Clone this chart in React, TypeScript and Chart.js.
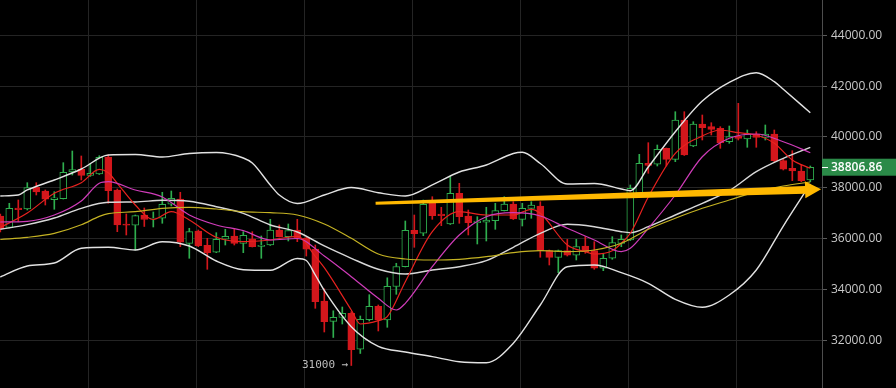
import React, { useEffect, useRef } from 'react';
import { Chart, registerables } from 'chart.js';

Chart.register(...registerables);

// ---- candle data (index 0..90) ----
const opens = [
  36886, 36441, 37201, 37162, 38016, 37870, 37528, 37567, 38618, 38725,
  38488, 38540, 39209, 37910, 36571, 36520, 36925, 36768, 36796, 37347,
  37555, 35811, 36296, 35733, 35457, 35969, 36099, 35811, 35981, 35693,
  35744, 36335, 36071, 36335, 36008, 35587, 33540, 32740, 32890, 33055,
  31638, 32803, 33331, 32792, 34110, 34890, 36323, 36205, 37386, 36965,
  36571, 37780, 36886, 36622, 36638, 36701, 37095, 37359, 36756, 37189,
  37280, 35520, 35260, 35520, 35339, 35705, 35520, 34827, 35221, 35811,
  35941, 37780, 38961, 38922, 39551, 39118, 40666, 39642, 40508, 40402,
  40339, 39811, 40036, 39917, 40114, 39984, 40114, 39063, 38764, 38657,
  38303,
];
const highs = [
  36965, 37386, 37516, 38197, 38197, 37910, 37843, 38985, 39445, 39248,
  38961, 39260, 39287, 37949, 36965, 36925, 37201, 37044, 37819, 37870,
  37819, 36402, 36335, 36008, 36229, 36362, 36362, 36268, 36268, 36099,
  36756, 36532, 36571, 36756, 36059, 35744, 34020, 33154, 33303, 33118,
  32949, 33788, 33382, 34453, 35024, 36689, 36925, 37516, 37646, 37229,
  38433, 38173, 37122, 36859, 37229, 37386, 37646, 37449, 37386, 37449,
  37449, 35547, 35547, 35969, 35969, 36071, 35874, 35418, 36071, 36138,
  38107, 39315, 39772, 39681, 39563, 40992, 40992, 40598, 40862, 40559,
  40402, 40429, 41323, 40272, 40205, 40469, 40272, 39118, 39457, 38894,
  38855,
];
const lows = [
  36256, 36414, 36662, 37122, 37713, 37319, 37150, 37555, 38500, 38303,
  38445, 38520, 37386, 36268, 36138, 35547, 36473, 36453, 36599, 37280,
  35677, 35221, 35677, 34788, 35441, 35744, 35744, 35441, 35665, 35221,
  35725, 36059, 35902, 35874, 35311, 33252, 32319, 32103, 32634, 31000,
  31473, 32752, 32359, 32504, 33803, 34878, 35654, 36110, 36756, 36504,
  36550, 36599, 36138, 35784, 35902, 36362, 37083, 36748, 36492, 36796,
  35260, 34957, 34654, 35311, 35154, 35418, 34788, 34733, 35182, 35677,
  35920, 37752, 38567, 38855, 38855, 39024, 39268, 39614, 39878, 40075,
  39551, 39748, 39878, 39591, 39591, 39878, 39024, 38697, 38276, 38237,
  38237,
];
const closes = [
  36374, 37189, 37134, 38000, 37831, 37544, 37606, 38607, 38709, 38488,
  38567, 39197, 37882, 36532, 36520, 36898, 36748, 36807, 37347, 37583,
  35851, 36268, 35717, 35441, 35969, 36087, 35811, 36126, 35677, 35733,
  36335, 36071, 36315, 36020, 35575, 33512, 32725, 32898, 33055, 31622,
  32819, 33331, 32792, 34118, 34898, 36323, 36189, 37347, 36898, 36898,
  37780, 36859, 36622, 36689, 36728, 37095, 37359, 36768, 37189, 37319,
  35520, 35260, 35520, 35339, 35677, 35481, 34827, 35221, 35835, 35969,
  37977, 38961, 38882, 39512, 39118, 40666, 39288, 40508, 40362, 40299,
  39772, 40008, 39945, 40114, 39984, 40114, 39063, 38725, 38657, 38276,
  38806.86,
];

// ---- indicator lines: [candle index, price] ----
const bbUpper: [number, number][] = [
  [0, 37673], [2, 37713], [3, 37910], [6, 38303], [9, 38736], [12, 39288], [15, 39307],
  [18, 39209], [21, 39347], [24, 39386], [27, 39170], [28, 38973], [30, 38107], [31, 37713],
  [33, 37378], [36, 37713], [39, 38008], [42, 37803], [45, 37673], [48, 38107], [51, 38618],
  [54, 38894], [57, 39347], [58, 39394], [60, 38953], [63, 38146], [66, 38166], [69, 37949],
  [70, 37882], [72, 38815], [75, 40205], [78, 41414], [81, 42150], [84, 42528], [86, 42174],
  [87, 41874], [90, 40953],
];
const bbMiddle: [number, number][] = [
  [0, 36362], [3, 36544], [6, 36807], [9, 37189], [12, 37425], [15, 37437], [18, 37504],
  [21, 37465], [24, 37252], [27, 36992], [30, 36532], [33, 36256], [36, 35705], [39, 35221],
  [42, 34788], [45, 34603], [48, 34760], [51, 34890], [54, 35126], [57, 35654], [60, 36205],
  [63, 36559], [66, 36465], [69, 36268], [70, 36229], [72, 36465], [75, 36925], [78, 37386],
  [81, 37882], [84, 38630], [87, 39157], [90, 39591],
];
const bbLower: [number, number][] = [
  [0, 34485], [3, 34918], [6, 35036], [9, 35614], [12, 35654], [15, 35547], [18, 35874],
  [21, 35705], [24, 35114], [27, 34772], [30, 34748], [33, 35213], [34, 35134], [35, 34563],
  [36, 33953], [39, 32528], [42, 31756], [45, 31532], [48, 31347], [51, 31150], [54, 31111],
  [57, 31874], [60, 33382], [63, 34890], [66, 34957], [69, 34654], [72, 34237], [75, 33607],
  [78, 33292], [81, 33776], [84, 34760], [87, 36492], [90, 38146],
];
const maFast: [number, number][] = [
  [0, 36433], [3, 37004], [6, 37780], [9, 38197], [11, 38724], [12, 38591], [13, 38173],
  [15, 37319], [17, 36748], [19, 37055], [21, 36729], [24, 36048], [27, 35874], [30, 35941],
  [33, 36087], [35, 35299], [36, 34850], [39, 33185], [40, 32634], [42, 32764], [43, 32921],
  [45, 34300], [48, 36268], [51, 37055], [54, 36925], [57, 36925], [59, 37150], [60, 36992],
  [63, 35744], [65, 35480], [66, 35390], [68, 35520], [69, 35811], [70, 36205], [72, 37634],
  [75, 39355], [78, 40036], [80, 40272], [82, 40166], [84, 40075], [86, 39748], [88, 39091],
  [90, 38764],
];
const maMid: [number, number][] = [
  [0, 36650], [3, 36677], [6, 36925], [9, 37477], [11, 38173], [12, 38236], [15, 37910],
  [18, 37634], [21, 36925], [24, 36532], [27, 36307], [30, 35941], [33, 36000], [36, 35311],
  [39, 34496], [42, 33646], [44, 33185], [45, 33449], [48, 34890], [51, 36138], [54, 36859],
  [57, 37016], [60, 36886], [63, 36402], [66, 35941], [69, 35481], [70, 35614], [72, 36402],
  [75, 37713], [78, 39220], [81, 39945], [84, 40114], [87, 39811], [90, 39378],
];
const maSlow: [number, number][] = [
  [0, 35961], [3, 36047], [6, 36205], [9, 36540], [11, 36870], [12, 36980], [15, 37055],
  [18, 37189], [21, 37229], [24, 37162], [27, 37055], [30, 37016], [33, 36925], [36, 36571],
  [39, 36008], [42, 35390], [45, 35193], [48, 35154], [51, 35181], [54, 35284], [57, 35441],
  [60, 35520], [63, 35481], [66, 35547], [69, 35811], [72, 36363], [75, 36796], [78, 37189],
  [81, 37516], [84, 37843], [87, 38067], [90, 38225],
];

// ---- axes ----
const yTicks = [32000, 34000, 36000, 38000, 40000, 42000, 44000];
const xGridTicks = [9.85, 21.85, 33.85, 45.85, 57.85, 69.85, 81.85];
const yMin = 30114;
const yMax = 45390;
const xMin = -0.033;
const xMax = 91.3;

// ---- trend arrow (index, price) ----
const arrowStart = { x: 41.7, y: 37390 };
const arrowEnd = { x: 91.2, y: 37935 };

const UP = '#2fae4e';
const DOWN = '#d3171c';

export default function App() {
  const ref = useRef<HTMLCanvasElement | null>(null);

  useEffect(() => {
    if (!ref.current) return;
    const idx = opens.map((_, i) => i);
    const isUp = (i: number) => closes[i] >= opens[i];
    const candleColor = idx.map((i) => (isUp(i) ? UP : DOWN));

    const lineDs = (label: string, pts: [number, number][], color: string, width: number, order: number) => ({
      type: 'line' as const,
      label,
      data: pts.map(([x, y]) => ({ x, y })),
      borderColor: color,
      borderWidth: width,
      pointRadius: 0,
      fill: false,
      cubicInterpolationMode: 'monotone' as const,
      order,
    });

    const bgPlugin = {
      id: 'bg',
      beforeDraw(chart: any) {
        const c = chart.ctx;
        c.save();
        c.fillStyle = '#000000';
        c.fillRect(0, 0, chart.width, chart.height);
        c.restore();
      },
    };

    const overlayPlugin = {
      id: 'overlay',
      afterDatasetsDraw(chart: any) {
        const c = chart.ctx;
        const xs = chart.scales.x;
        const ys = chart.scales.y;
        // arrow
        const x0 = xs.getPixelForValue(arrowStart.x);
        const y0 = ys.getPixelForValue(arrowStart.y);
        const x1 = xs.getPixelForValue(arrowEnd.x);
        const y1 = ys.getPixelForValue(arrowEnd.y);
        const dx = x1 - x0;
        const dy = y1 - y0;
        const len = Math.sqrt(dx * dx + dy * dy);
        const ux = dx / len;
        const uy = dy / len;
        const nx = -uy;
        const ny = ux;
        const headLen = 16;
        const headHalf = 8.5;
        const bx = x1 - ux * headLen;
        const by = y1 - uy * headLen;
        c.save();
        c.beginPath();
        c.moveTo(x0 + nx * 1.5, y0 + ny * 1.5);
        c.lineTo(bx + nx * 3.8, by + ny * 3.8);
        c.lineTo(bx + nx * headHalf, by + ny * headHalf);
        c.lineTo(x1, y1);
        c.lineTo(bx - nx * headHalf, by - ny * headHalf);
        c.lineTo(bx - nx * 3.8, by - ny * 3.8);
        c.lineTo(x0 - nx * 1.5, y0 - ny * 1.5);
        c.closePath();
        c.fillStyle = '#ffb800';
        c.fill();

        // lowest-low marker
        let li = 0;
        lows.forEach((v, i) => {
          if (v < lows[li]) li = i;
        });
        const lx = xs.getPixelForValue(li) - 3;
        const ly = ys.getPixelForValue(lows[li]);
        c.font = '11px "DejaVu Sans Mono", monospace';
        c.fillStyle = '#bdbdbd';
        c.textAlign = 'right';
        c.textBaseline = 'middle';
        c.fillText(String(lows[li]) + ' \u2192', lx, ly);
        c.restore();
      },
      afterDraw(chart: any) {
        const c = chart.ctx;
        const ys = chart.scales.y;
        const area = chart.chartArea;
        const last = closes[closes.length - 1];
        const py = ys.getPixelForValue(last);
        c.save();
        c.fillStyle = '#2b8a48';
        c.fillRect(area.right, py - 8.5, chart.width - area.right, 17);
        c.strokeStyle = '#ffffff';
        c.lineWidth = 1;
        c.beginPath();
        c.moveTo(area.right, Math.round(py) + 0.5);
        c.lineTo(area.right + 6, Math.round(py) + 0.5);
        c.stroke();
        c.font = '600 12px "Open Sans", sans-serif';
        c.fillStyle = '#ffffff';
        c.textAlign = 'left';
        c.textBaseline = 'middle';
        c.fillText(last.toFixed(2), area.right + 9, py + 0.5);
        c.restore();
      },
    };

    const chart = new Chart(ref.current, {
      type: 'line',
      data: {
        datasets: [
          lineDs('BB upper', bbUpper, '#e2e2e2', 1.4, 1),
          lineDs('BB middle', bbMiddle, '#d8d8d8', 1.4, 1),
          lineDs('BB lower', bbLower, '#e2e2e2', 1.4, 1),
          lineDs('MA slow', maSlow, '#c4b223', 1.2, 0),
          lineDs('MA mid', maMid, '#cf3cb9', 1.2, 0),
          lineDs('MA fast', maFast, '#e8221f', 1.2, 0),
          {
            type: 'bar' as const,
            label: 'body',
            data: idx.map((i) => ({ x: i, y: [opens[i], closes[i]] })) as any,
            backgroundColor: idx.map((i) => (isUp(i) ? '#000000' : DOWN)),
            borderColor: candleColor,
            borderWidth: 1,
            borderSkipped: false,
            barThickness: 7,
            grouped: false,
            order: 5,
          } as any,
          {
            type: 'bar' as const,
            label: 'upper wick',
            data: idx.map((i) => ({ x: i, y: [Math.max(opens[i], closes[i]), highs[i]] })) as any,
            backgroundColor: candleColor,
            borderWidth: 0,
            barThickness: 1,
            grouped: false,
            order: 6,
          } as any,
          {
            type: 'bar' as const,
            label: 'lower wick',
            data: idx.map((i) => ({ x: i, y: [lows[i], Math.min(opens[i], closes[i])] })) as any,
            backgroundColor: candleColor,
            borderWidth: 0,
            barThickness: 1,
            grouped: false,
            order: 6,
          } as any,
        ],
      },
      options: {
        responsive: false,
        animation: false,
        layout: { padding: 0 },
        plugins: { legend: { display: false }, tooltip: { enabled: false } },
        scales: {
          x: {
            type: 'linear',
            min: xMin,
            max: xMax,
            offset: false,
            ticks: { display: false },
            border: { display: false },
            grid: { color: '#242424', drawTicks: false, offset: false },
            afterBuildTicks: (s: any) => {
              s.ticks = xGridTicks.map((v) => ({ value: v }));
            },
            afterFit: (s: any) => {
              s.height = 0;
              s.paddingLeft = 0;
              s.paddingRight = 0;
            },
          },
          y: {
            type: 'linear',
            position: 'right',
            min: yMin,
            max: yMax,
            border: { display: true, color: '#4d4d4d' },
            grid: { color: '#242424', tickColor: '#5a5a5a', tickLength: 5 },
            ticks: {
              color: '#c8c8c8',
              font: { family: '"Open Sans", sans-serif', size: 12 },
              padding: 4,
              callback: (v: any) => Number(v).toFixed(2),
            },
            afterBuildTicks: (s: any) => {
              s.ticks = yTicks.map((v) => ({ value: v }));
            },
            afterFit: (s: any) => {
              s.width = 74;
              s.paddingTop = 0;
              s.paddingBottom = 0;
            },
          },
        },
      } as any,
      plugins: [bgPlugin, overlayPlugin],
    });
    return () => chart.destroy();
  }, []);

  return (
    <div style={{ position: 'fixed', left: 0, top: 0, width: 896, height: 388, background: '#000', overflow: 'hidden' }}>
      <canvas ref={ref} width={896} height={388} style={{ display: 'block', width: 896, height: 388 }} />
    </div>
  );
}
